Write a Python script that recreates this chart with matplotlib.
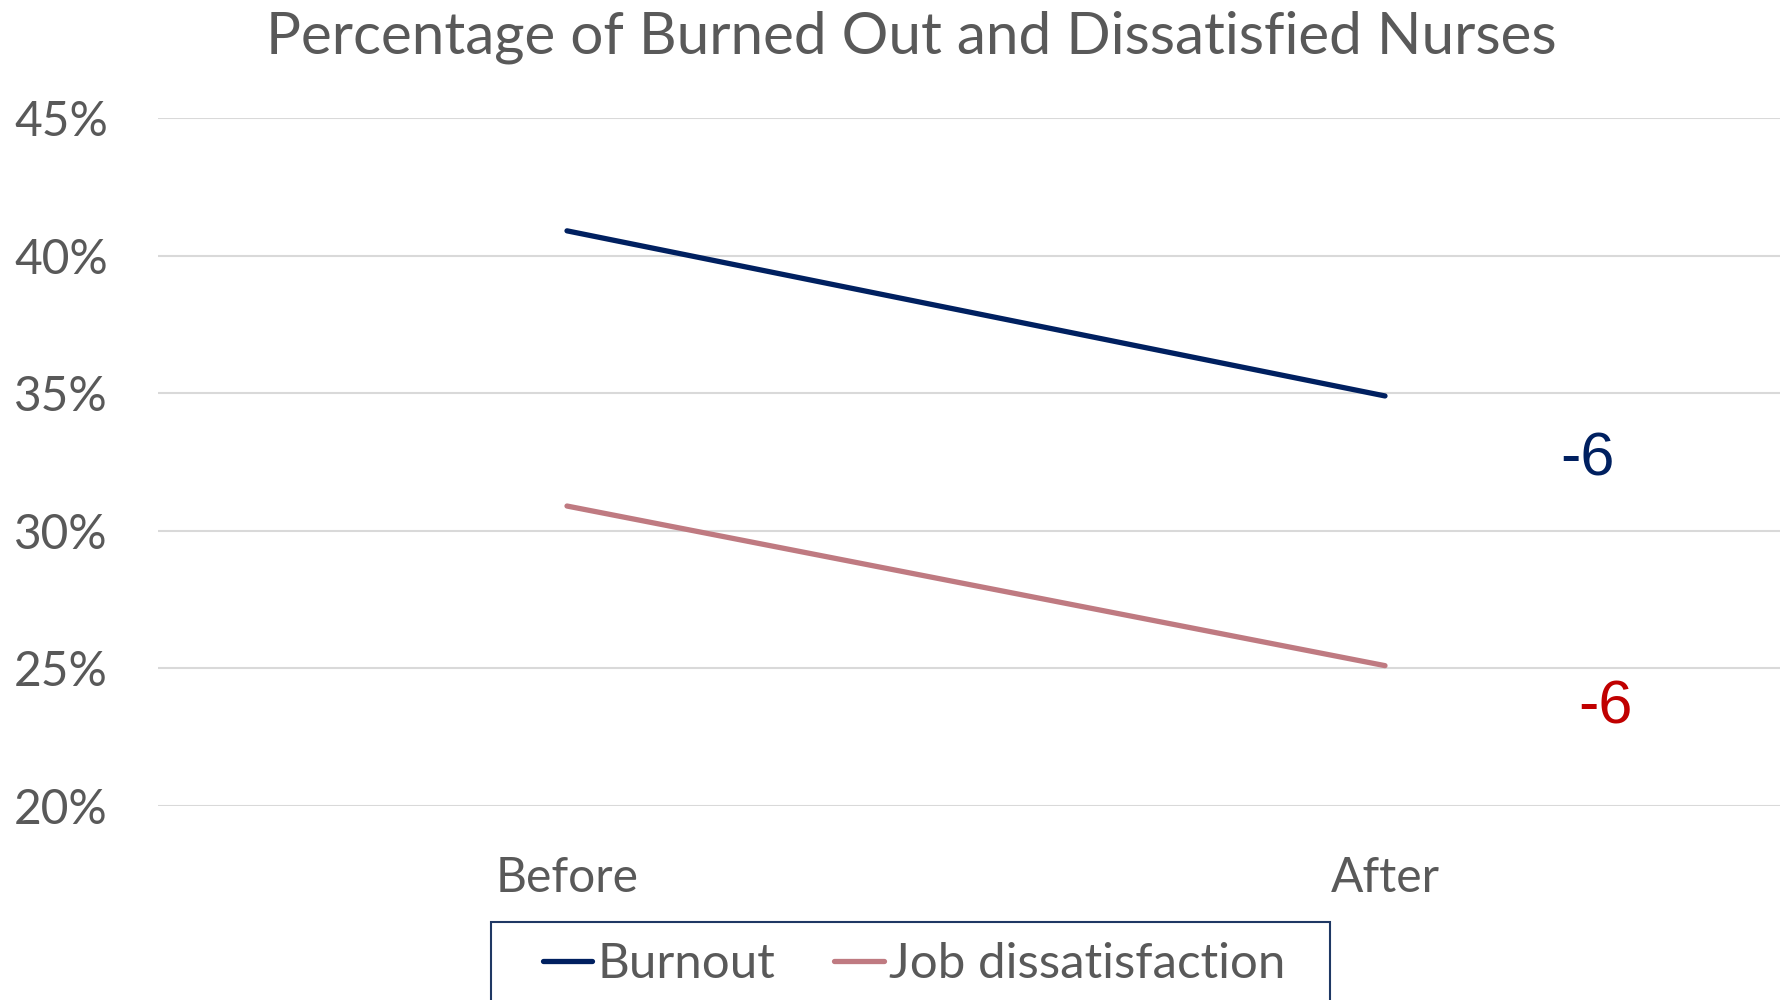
import matplotlib
matplotlib.use("Agg")
import matplotlib.pyplot as plt
from matplotlib.patches import Rectangle
from matplotlib.ticker import FixedLocator

# Data
periods = ["Before", "After"]
burnout = [0.409, 0.349]
job_dissatisfaction = [0.309, 0.251]
y_ticks = [0.20, 0.25, 0.30, 0.35, 0.40, 0.45]
y_tick_labels = ["20%", "25%", "30%", "35%", "40%", "45%"]

NAVY = "#002060"
ROSE = "#BF7A81"
RED = "#C00000"
TEXT = "#595959"
GRID = "#D9D9D9"

plt.rcParams["font.family"] = ["Lato", "DejaVu Sans"]

W, H = 1781, 1000
fig = plt.figure(figsize=(W / 100, H / 100), dpi=100)
fig.patch.set_facecolor("white")

# plot area in pixel terms
left_px, right_px, top_px, bottom_px = 158, 1794, 118, 806
ax = fig.add_axes([left_px / W, 1 - bottom_px / H,
                   (right_px - left_px) / W, (bottom_px - top_px) / H])
ax.set_xlim(-0.5, 1.5)
ax.set_ylim(y_ticks[0], y_ticks[-1])

x = list(range(len(periods)))
ax.plot(x, burnout, color=NAVY, lw=3.8, solid_capstyle="round",
        label="Burnout", zorder=3)
ax.plot(x, job_dissatisfaction, color=ROSE, lw=3.8, solid_capstyle="round",
        label="Job dissatisfaction", zorder=3)

# change labels to the right of the lines
d_burn = round((burnout[1] - burnout[0]) * 100)
d_job = round((job_dissatisfaction[1] - job_dissatisfaction[0]) * 100)
ax.text(1.247, 0.3257, f"{d_burn}", color=NAVY, fontsize=44,
        family="Liberation Sans", ha="center", va="center", clip_on=False)
ax.text(1.27, 0.2357, f"{d_job}", color=RED, fontsize=44,
        family="Liberation Sans", ha="center", va="center", clip_on=False)

# axes styling
ax.yaxis.set_major_locator(FixedLocator(y_ticks))
ax.set_yticklabels(y_tick_labels)
ax.set_xticks(x)
ax.set_xticklabels(periods)
ax.grid(axis="y", color=GRID, lw=1.5)
ax.set_axisbelow(True)
for s in ax.spines.values():
    s.set_visible(False)
ax.tick_params(axis="y", length=0, pad=36, labelsize=34.5, labelcolor=TEXT)
ax.tick_params(axis="x", length=0, pad=36, labelsize=34.5, labelcolor=TEXT)

fig.suptitle("Percentage of Burned Out and Dissatisfied Nurses",
             x=911 / W, y=1 - 37 / H, va="center", fontsize=42, color=TEXT)

# legend with a box that runs off the bottom edge
leg = fig.legend(loc="center", bbox_to_anchor=(914 / W, 1 - 964 / H), ncol=2,
                 frameon=False, fontsize=35.5, handlelength=1.0,
                 handletextpad=0.1, columnspacing=1.2, labelcolor=TEXT)
for line in leg.get_lines():
    line.set_linewidth(3.8)
fig.add_artist(Rectangle((491 / W, 1 - 1010 / H), (1330 - 491) / W, (1010 - 922) / H,
                         transform=fig.transFigure, facecolor="none",
                         edgecolor="#1F3864", lw=1.5))

fig.savefig("out.png", dpi=100)
